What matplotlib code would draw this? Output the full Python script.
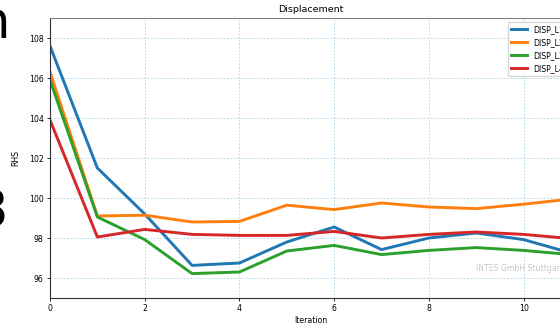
import matplotlib
matplotlib.use("Agg")
import matplotlib.pyplot as plt

# Data
iterations = [0, 1, 2, 3, 4, 5, 6, 7, 8, 9, 10, 11]
disp_l1 = [107.6, 101.5, 99.2, 96.63, 96.75, 97.8, 98.55, 97.42, 98.0, 98.25, 97.92, 97.25]
disp_l2 = [106.3, 99.1, 99.14, 98.8, 98.83, 99.64, 99.42, 99.75, 99.55, 99.47, 99.69, 99.95]
disp_l3 = [105.9, 99.05, 97.92, 96.22, 96.3, 97.35, 97.63, 97.17, 97.38, 97.52, 97.38, 97.17]
disp_l4 = [103.9, 98.05, 98.43, 98.18, 98.13, 98.13, 98.33, 98.0, 98.18, 98.3, 98.18, 97.97]
series_names = ['DISP_L1', 'DISP_L2', 'DISP_L3', 'DISP_L4']
series_colors = ['#1f77b4', '#ff7f0e', '#2ca02c', '#d62728']

fs = 5.6
fig = plt.figure(figsize=(5.6, 3.24), dpi=100)
# axes runs a little past the right edge, like the cropped reference
ax = fig.add_axes([50 / 560, 26 / 324, 521 / 560, 280 / 324])

for vals, name, col in zip([disp_l1, disp_l2, disp_l3, disp_l4], series_names, series_colors):
    ax.plot(iterations, vals, color=col, lw=2.1, label=name)

ax.set_xlim(0, 11)
ax.set_ylim(95, 109)
ax.set_xticks([0, 2, 4, 6, 8, 10])
ax.set_yticks([96, 98, 100, 102, 104, 106, 108])
ax.tick_params(labelsize=fs, length=2.5, width=0.6, pad=2)
ax.grid(True, color='#a9d3e8', ls=(0, (2, 2)), lw=0.6)

for side in ['left', 'bottom']:
    ax.spines[side].set_color('#333333')
    ax.spines[side].set_linewidth(0.8)
ax.spines['top'].set_color('#808080')
ax.spines['top'].set_linewidth(0.8)

ax.set_title('Displacement', fontsize=6.8, pad=4)
ax.set_xlabel('Iteration', fontsize=fs, labelpad=2)
ax.set_ylabel('RHS', fontsize=fs, labelpad=6)
ax.legend(loc='upper right', fontsize=fs)

ax.text(0.818, 0.104, 'INTES GmbH Stuttgart', transform=ax.transAxes,
        fontsize=fs, color='#c8c8c8', va='center', ha='left')

# fragments of large text cut off at the left border
fig.text(10 / 560, 1 - 24 / 324, 'n', fontsize=37, ha='right', va='center')
fig.text(8 / 560, 1 - 214 / 324, '3', fontsize=37, ha='right', va='center')

fig.savefig('out.png', dpi=100)
